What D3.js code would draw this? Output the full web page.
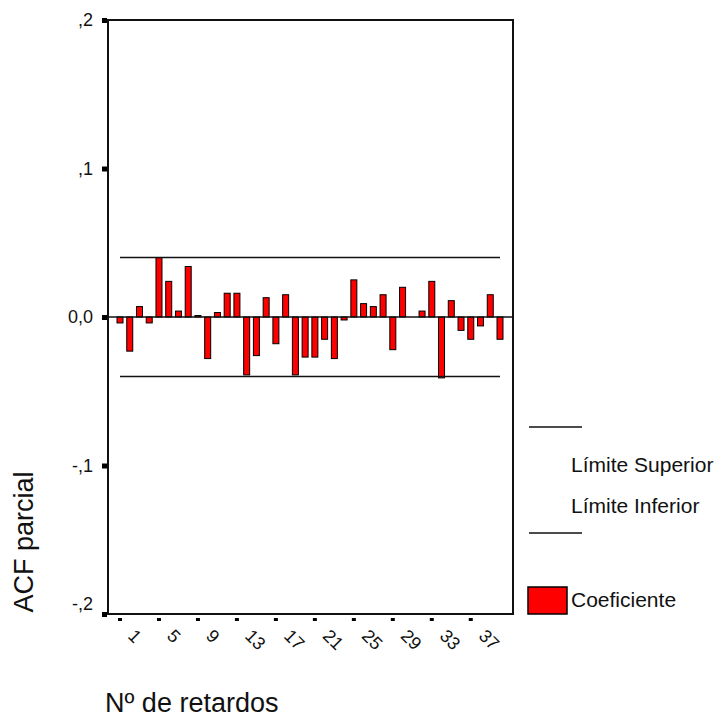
<!DOCTYPE html>
<html lang="es">
<head>
    <meta charset="UTF-8">
    <title>ACF parcial</title>
    <script src="https://d3js.org/d3.v7.min.js"></script>
    <style>
        body {
            margin: 0;
            background: #fff;
        }
        text {
            font-family: "Liberation Sans", Arial, sans-serif;
            fill: #111;
        }
        .tick-label {
            font-size: 18px;
        }
        .legend-label {
            font-size: 21px;
        }
        .axis-title {
            font-size: 27px;
        }
    </style>
</head>
<body>
    <svg width="718" height="722"></svg>

    <script>
        // Lags (Nº de retardos) and partial ACF coefficients
        const lags = [1, 2, 3, 4, 5, 6, 7, 8, 9, 10,
                      11, 12, 13, 14, 15, 16, 17, 18, 19, 20,
                      21, 22, 23, 24, 25, 26, 27, 28, 29, 30,
                      31, 32, 33, 34, 35, 36, 37, 38, 39, 40];
        const coeficiente = [-0.004, -0.023, 0.007, -0.004, 0.040, 0.024, 0.004, 0.034, 0.001, -0.028,
                             0.003, 0.016, 0.016, -0.039, -0.026, 0.013, -0.018, 0.015, -0.039, -0.027,
                             -0.027, -0.015, -0.028, -0.002, 0.025, 0.009, 0.007, 0.015, -0.022, 0.020,
                             0.000, 0.004, 0.024, -0.041, 0.011, -0.009, -0.015, -0.006, 0.015, -0.015];
        // confidence limits
        const limiteSuperior = 0.040;
        const limiteInferior = -0.040;

        const xTickValues = [1, 5, 9, 13, 17, 21, 25, 29, 33, 37];
        const yTickValues = [0.2, 0.1, 0, -0.1, -0.2];
        const yTickLabels = [",2", ",1", "0,0", "-,1", "-,2"];

        const data = lags.map((lag, i) => ({ lag: lag, value: coeficiente[i] }));

        // plot frame
        const frame = { left: 108, right: 513, top: 20, bottom: 614 };

        const svg = d3.select("svg");

        const x = d3.scalePoint()
                    .domain(lags)
                    .range([120, 500]);

        const y = d3.scaleLinear()
                    .domain([-0.2, 0.2])
                    .range([frame.bottom, frame.top]);

        // Bars
        svg.selectAll(".bar")
           .data(data)
           .enter().append("rect")
           .attr("class", "bar")
           .attr("x", d => x(d.lag) - 3)
           .attr("y", d => y(Math.max(0, d.value)))
           .attr("width", 6)
           .attr("height", d => Math.abs(y(d.value) - y(0)))
           .attr("fill", "#ff0000")
           .attr("stroke", "#000")
           .attr("stroke-width", 1);

        // zero line
        svg.append("line")
           .attr("x1", frame.left).attr("x2", frame.right)
           .attr("y1", y(0)).attr("y2", y(0))
           .attr("stroke", "#111").attr("stroke-width", 1.5);

        // confidence limits
        [limiteSuperior, limiteInferior].forEach(v => {
            svg.append("line")
               .attr("x1", x(lags[0])).attr("x2", x(lags[lags.length - 1]))
               .attr("y1", y(v)).attr("y2", y(v))
               .attr("stroke", "#111").attr("stroke-width", 1.5);
        });

        // frame
        svg.append("rect")
           .attr("x", frame.left).attr("y", frame.top)
           .attr("width", frame.right - frame.left)
           .attr("height", frame.bottom - frame.top)
           .attr("fill", "none")
           .attr("stroke", "#111")
           .attr("stroke-width", 2);

        // Y axis ticks and labels
        const yAxis = svg.append("g").attr("class", "y axis");
        yAxis.selectAll("rect")
             .data(yTickValues)
             .enter().append("rect")
             .attr("x", frame.left - 6).attr("y", d => y(d) - 2)
             .attr("width", 5).attr("height", 5)
             .attr("fill", "#000");
        yAxis.selectAll("text")
             .data(yTickValues)
             .enter().append("text")
             .attr("class", "tick-label")
             .attr("x", 93)
             .attr("y", d => d === -0.2 ? y(d) - 10 : y(d))
             .attr("dy", "0.35em")
             .attr("text-anchor", "end")
             .text((d, i) => yTickLabels[i]);

        // X axis ticks and labels
        const xAxis = svg.append("g").attr("class", "x axis");
        xAxis.selectAll("rect")
             .data(xTickValues)
             .enter().append("rect")
             .attr("x", d => x(d) - 2).attr("y", frame.bottom + 4)
             .attr("width", 4).attr("height", 3)
             .attr("fill", "#000");
        xAxis.selectAll("text")
             .data(xTickValues)
             .enter().append("text")
             .attr("class", "tick-label")
             .attr("transform", d => `translate(${x(d) + 7},${frame.bottom + 23}) rotate(45)`)
             .attr("text-anchor", "start")
             .text(d => d);

        // Axis titles
        svg.append("text")
           .attr("class", "axis-title")
           .attr("transform", "translate(33,542) rotate(-90)")
           .attr("text-anchor", "middle")
           .text("ACF parcial");

        svg.append("text")
           .attr("class", "axis-title")
           .attr("x", 105).attr("y", 712)
           .text("Nº de retardos");

        // Legend
        const legend = svg.append("g").attr("class", "legend");
        legend.append("line")
              .attr("x1", 529).attr("x2", 582).attr("y1", 427).attr("y2", 427)
              .attr("stroke", "#111").attr("stroke-width", 1.5);
        legend.append("text")
              .attr("class", "legend-label")
              .attr("x", 571).attr("y", 472)
              .text("Límite Superior");
        legend.append("text")
              .attr("class", "legend-label")
              .attr("x", 571).attr("y", 513)
              .text("Límite Inferior");
        legend.append("line")
              .attr("x1", 529).attr("x2", 582).attr("y1", 533).attr("y2", 533)
              .attr("stroke", "#111").attr("stroke-width", 1.5);
        legend.append("rect")
              .attr("x", 528).attr("y", 587)
              .attr("width", 39).attr("height", 27)
              .attr("fill", "#ff0000")
              .attr("stroke", "#000").attr("stroke-width", 1.5);
        legend.append("text")
              .attr("class", "legend-label")
              .attr("x", 571).attr("y", 607)
              .text("Coeficiente");
    </script>
</body>
</html>
